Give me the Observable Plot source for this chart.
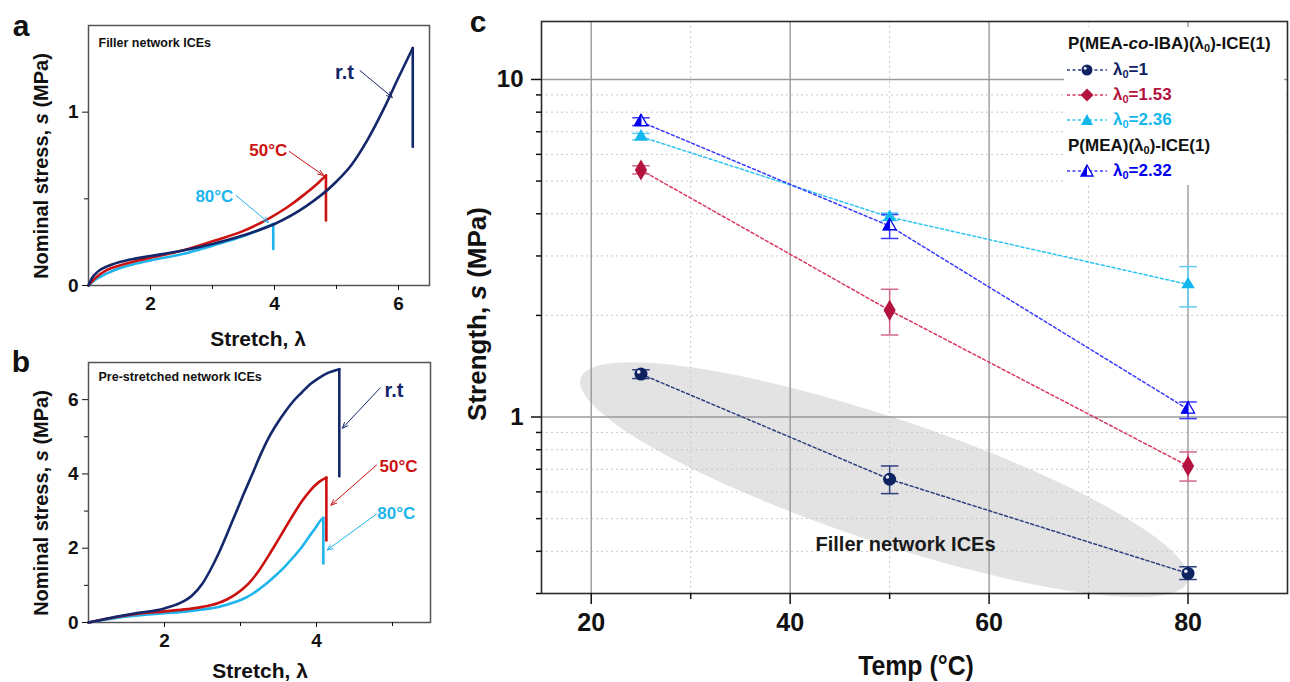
<!DOCTYPE html>
<html><head><meta charset="utf-8">
<script src="https://cdn.jsdelivr.net/npm/d3@7"></script>
<script src="https://cdn.jsdelivr.net/npm/@observablehq/plot@0.6"></script>
<style>
body{margin:0;background:#fff;}
#root{position:relative;width:1290px;height:682px;overflow:hidden;font-family:"Liberation Sans",Arial,sans-serif;background:#fff;}
.pan{position:absolute;}
.lbl{position:absolute;font-weight:bold;white-space:nowrap;color:#111;transform:translate(-50%,-50%);line-height:1;}
.rot{transform:translate(-50%,-50%) rotate(-90deg);}
.leg{position:absolute;font-weight:bold;white-space:nowrap;font-size:17px;line-height:1;}
.leg sub{font-size:11px;vertical-align:-3px;}
</style></head><body><div id="root"></div>
<script>
// ---------- Panel a : Filler network ICEs ----------
const aRtLam = [1.0,1.05,1.15,1.3,1.5,1.75,2.0,2.5,3.0,3.5,4.0,4.5,5.0,5.25,5.5,5.75,6.0,6.23];
const aRtS   = [0,0.04,0.08,0.11,0.135,0.155,0.17,0.2,0.24,0.29,0.355,0.455,0.6,0.7,0.84,1.01,1.2,1.37];
const aRtDrop = 0.80;
const a50Lam = [1.0,1.1,1.3,1.5,1.75,2.0,2.5,3.0,3.5,3.9,4.2,4.5,4.7,4.83];
const a50S   = [0,0.04,0.09,0.115,0.14,0.16,0.2,0.255,0.315,0.385,0.45,0.53,0.59,0.635];
const a50Drop = 0.375;
const a80Lam = [1.0,1.1,1.3,1.5,1.75,2.0,2.5,3.0,3.5,3.98];
const a80S   = [0,0.03,0.07,0.1,0.125,0.145,0.18,0.23,0.285,0.355];
const a80Drop = 0.21;

// ---------- Panel b : Pre-stretched network ICEs ----------
const bRtLam = [1.0,1.3,1.6,2.0,2.2,2.36,2.5,2.6,2.71,2.82,2.93,3.04,3.15,3.26,3.37,3.48,3.59,3.7,3.81,3.92,4.03,4.15,4.3];
const bRtS   = [0,0.13,0.24,0.38,0.52,0.72,1.05,1.4,1.85,2.37,2.91,3.45,3.97,4.5,4.97,5.35,5.68,5.97,6.2,6.42,6.58,6.72,6.82];
const bRtDrop = 3.94;
const b50Lam = [1.0,1.3,1.6,2.0,2.3,2.5,2.7,2.82,2.93,3.04,3.15,3.26,3.37,3.48,3.59,3.7,3.81,3.92,4.03,4.13];
const b50S   = [0,0.12,0.22,0.3,0.36,0.42,0.52,0.62,0.75,0.92,1.15,1.45,1.8,2.17,2.55,2.92,3.27,3.56,3.78,3.9];
const b50Drop = 2.21;
const b80Lam = [1.0,1.3,1.6,2.0,2.3,2.5,2.71,2.93,3.04,3.15,3.26,3.37,3.48,3.59,3.7,3.81,3.9,3.99,4.05,4.09];
const b80S   = [0,0.1,0.18,0.25,0.3,0.35,0.42,0.55,0.64,0.76,0.92,1.1,1.3,1.52,1.77,2.04,2.3,2.56,2.74,2.82];
const b80Drop = 1.59;

// ---------- Panel c : Strength vs temperature ----------
const temps = [25, 50, 80];
const cSeriesNames = ["λ0=1", "λ0=1.53", "λ0=2.36", "λ0=2.32"];
const c1   = [1.34, 0.654, 0.344], c1Lo = [1.30, 0.593, 0.330], c1Hi = [1.38, 0.716, 0.360];
const c153 = [5.39, 2.07, 0.716],  c153Lo = [5.25, 1.75, 0.646], c153Hi = [5.55, 2.39, 0.788];
const c236 = [6.77, 3.91, 2.47],   c236Lo = [6.62, 3.82, 2.12],  c236Hi = [6.92, 4.02, 2.79];
const c232 = [7.49, 3.68, 1.054],  c232Lo = [7.30, 3.38, 0.989], c232Hi = [7.70, 3.98, 1.108];
const cXTicks = [20, 40, 60, 80], cXMinor = [30, 50, 70];
const cYTicks = [1, 10], cYMinor = [0.3,0.4,0.5,0.6,0.7,0.8,0.9,2,3,4,5,6,7,8,9];

const NAVY = "#14276b", RED = "#cc1111", CYAN = "#1eb4ec";
const root = document.getElementById("root");
const intFmt = d => String(d);

function pts(l, s) { return l.map((x, i) => ({x, y: s[i]})); }
function drop(l, s, d) { const n = l.length - 1; return [{x: l[n], y: s[n]}, {x: l[n], y: d}]; }
function place(el, left, top) { const d = document.createElement("div"); d.className = "pan"; d.style.left = left + "px"; d.style.top = top + "px"; d.appendChild(el); root.appendChild(d); }
function label(html, x, y, size, rot, extra) {
  const d = document.createElement("div"); d.className = "lbl" + (rot ? " rot" : "");
  d.style.left = x + "px"; d.style.top = y + "px"; d.style.fontSize = size + "px";
  if (extra) Object.assign(d.style, extra);
  d.innerHTML = html; root.appendChild(d);
}

function stressPanel(o) {
  const marks = [Plot.frame({stroke: "#555", strokeWidth: 1.5})];
  for (const c of o.curves) {
    marks.push(Plot.line(pts(c.l, c.s), {x: "x", y: "y", stroke: c.color, strokeWidth: 2.6, curve: "monotone-x"}));
    marks.push(Plot.line(drop(c.l, c.s, c.d), {x: "x", y: "y", stroke: c.color, strokeWidth: 2.6}));
  }
  for (const a of o.notes) {
    marks.push(Plot.arrow([a], {x1: "x1", y1: "y1", x2: "x2", y2: "y2", stroke: a.color, strokeWidth: 1, headLength: 9, headAngle: 45}));
    marks.push(Plot.text([a], {x: "tx", y: "ty", text: "t", fill: a.color, fontSize: a.fs, fontWeight: "bold"}));
  }
  marks.push(Plot.text([o.title], {frameAnchor: "top-left", dx: 10, dy: o.titleDy, lineAnchor: "middle", textAnchor: "start", fontSize: 12.5, fontWeight: "bold", fill: "#111"}));
  marks.push(Plot.axisX({ticks: o.xTicks, tickSize: 5, tickPadding: 6, tickFormat: intFmt, label: null, fontSize: 19, fontWeight: "bold"}));
  marks.push(Plot.axisX({ticks: o.xMinor, tickSize: 4, tickFormat: () => "", label: null}));
  marks.push(Plot.axisY({ticks: o.yTicks, tickSize: 6, tickPadding: 4, tickFormat: intFmt, label: null, fontSize: 19, fontWeight: "bold"}));
  marks.push(Plot.axisY({ticks: o.yMinor, tickSize: 4, tickFormat: () => "", label: null}));
  return Plot.plot({
    width: 440, height: o.h, marginLeft: 88, marginRight: o.mr, marginTop: o.mt, marginBottom: o.mb,
    x: {domain: o.xd}, y: {domain: o.yd},
    style: {fontFamily: "'Liberation Sans', Arial, sans-serif", color: "#111", background: "transparent", overflow: "visible"},
    marks
  });
}

// Panel a
place(stressPanel({
  h: 340, mr: 11, mt: 25, mb: 55, xd: [1, 6.5], yd: [0, 1.5], titleDy: 17,
  title: "Filler network ICEs", xTicks: [2, 4, 6], xMinor: [3, 5], yTicks: [0, 1], yMinor: [0.5],
  curves: [
    {l: a80Lam, s: a80S, d: a80Drop, color: CYAN},
    {l: a50Lam, s: a50S, d: a50Drop, color: RED},
    {l: aRtLam, s: aRtS, d: aRtDrop, color: NAVY}
  ],
  notes: [
    {t: "r.t", tx: 5.13, ty: 1.23, x1: 5.38, y1: 1.24, x2: 5.90, y2: 1.085, color: NAVY, fs: 20},
    {t: "50°C", tx: 3.90, ty: 0.78, x1: 4.24, y1: 0.773, x2: 4.79, y2: 0.635, color: RED, fs: 17},
    {t: "80°C", tx: 3.03, ty: 0.514, x1: 3.38, y1: 0.519, x2: 3.90, y2: 0.364, color: CYAN, fs: 17}
  ]
}), 0, 0);

// Panel b
place(stressPanel({
  h: 342, mr: 10, mt: 22, mb: 60, xd: [1, 5.5], yd: [0, 7], titleDy: 14,
  title: "Pre-stretched network ICEs", xTicks: [2, 4], xMinor: [3, 5], yTicks: [0, 2, 4, 6], yMinor: [1, 3, 5],
  curves: [
    {l: b80Lam, s: b80S, d: b80Drop, color: CYAN},
    {l: b50Lam, s: b50S, d: b50Drop, color: RED},
    {l: bRtLam, s: bRtS, d: bRtDrop, color: NAVY}
  ],
  notes: [
    {t: "r.t", tx: 5.02, ty: 6.24, x1: 4.84, y1: 6.32, x2: 4.34, y2: 5.23, color: NAVY, fs: 20},
    {t: "50°C", tx: 5.08, ty: 4.21, x1: 4.79, y1: 4.24, x2: 4.19, y2: 3.16, color: RED, fs: 17},
    {t: "80°C", tx: 5.05, ty: 2.92, x1: 4.79, y1: 2.92, x2: 4.14, y2: 1.95, color: CYAN, fs: 17}
  ]
}), 0, 340);

// Panel c
const sphere = {draw(ctx, size) { const r = Math.sqrt(size / Math.PI); ctx.moveTo(r, 0); ctx.arc(0, 0, r, 0, 2 * Math.PI); }};
const capSym = {draw(ctx, size) { const w = Math.sqrt(size) * 0.55; ctx.moveTo(-w, 0); ctx.lineTo(w, 0); }};
const triFull = {draw(ctx, size) { const s = Math.sqrt(size) * 0.6824, t = s / 2, u = s * Math.sqrt(3) / 2; ctx.moveTo(0, -s); ctx.lineTo(u, t); ctx.lineTo(-u, t); ctx.closePath(); }};
const triHalf = {draw(ctx, size) { const s = Math.sqrt(size) * 0.6824, t = s / 2, u = s * Math.sqrt(3) / 2; ctx.moveTo(0, -s); ctx.lineTo(0, t); ctx.lineTo(-u, t); ctx.closePath(); }};

const cSeries = [
  {name: cSeriesNames[0], v: c1,   lo: c1Lo,   hi: c1Hi,   mark: "#0e2262", line: "#2c4080", err: "#2c4080"},
  {name: cSeriesNames[1], v: c153, lo: c153Lo, hi: c153Hi, mark: "#b3123f", line: "#d8385f", err: "#d06a88"},
  {name: cSeriesNames[2], v: c236, lo: c236Lo, hi: c236Hi, mark: "#14b6ee", line: "#2cc4f2", err: "#5fcdf3"},
  {name: cSeriesNames[3], v: c232, lo: c232Lo, hi: c232Hi, mark: "#0000f0", line: "#3a3aff", err: "#3a3aff"}
];
const rows = s => temps.map((t, i) => ({t, v: s.v[i], lo: s.lo[i], hi: s.hi[i]}));

const cMarks = [
  Plot.gridX(cXMinor, {stroke: "#c8c8c8", strokeOpacity: 1, strokeDasharray: "2,3"}),
  Plot.gridY(cYMinor, {stroke: "#c8c8c8", strokeOpacity: 1, strokeDasharray: "2,3"}),
  Plot.gridX(cXTicks, {stroke: "#9a9a9a", strokeOpacity: 1, strokeWidth: 1.4}),
  Plot.gridY(cYTicks, {stroke: "#9a9a9a", strokeOpacity: 1, strokeWidth: 1.4})
];
for (const s of cSeries) {
  const r = rows(s);
  cMarks.push(Plot.line(r, {x: "t", y: "v", stroke: s.line, strokeWidth: 1.5, strokeDasharray: "3,2.5"}));
  cMarks.push(Plot.ruleX(r, {x: "t", y1: "lo", y2: "hi", stroke: s.err, strokeWidth: 1.5}));
  cMarks.push(Plot.dot(r, {x: "t", y: "lo", symbol: capSym, r: 9, fill: "none", stroke: s.err, strokeWidth: 1.5}));
  cMarks.push(Plot.dot(r, {x: "t", y: "hi", symbol: capSym, r: 9, fill: "none", stroke: s.err, strokeWidth: 1.5}));
}
// markers
cMarks.push(Plot.dot(rows(cSeries[0]), {x: "t", y: "v", symbol: sphere, r: 6.5, fill: cSeries[0].mark, stroke: "none"}));
cMarks.push(Plot.dot(rows(cSeries[0]), {x: "t", y: "v", symbol: sphere, r: 1.8, dx: -2.2, dy: -2.2, fill: "#e8ecf6", stroke: "none"}));
cMarks.push(Plot.dot(rows(cSeries[1]), {x: "t", y: "v", symbol: "diamond", r: 6.4, fill: cSeries[1].mark, stroke: "none"}));
cMarks.push(Plot.dot(rows(cSeries[2]), {x: "t", y: "v", symbol: triFull, r: 6.4, fill: cSeries[2].mark, stroke: "none"}));
cMarks.push(Plot.dot(rows(cSeries[3]), {x: "t", y: "v", symbol: triFull, r: 6.2, fill: "#fff", stroke: cSeries[3].mark, strokeWidth: 1.3}));
cMarks.push(Plot.dot(rows(cSeries[3]), {x: "t", y: "v", symbol: triHalf, r: 6.2, fill: cSeries[3].mark, stroke: cSeries[3].mark, strokeWidth: 1}));
cMarks.push(Plot.text(["Filler network ICEs"], {x: 51.6, y: 0.42, text: d => d, fontFamily: "'Liberation Sans Narrow', 'Arial Narrow', sans-serif", fontSize: 20, fontWeight: "bold", fill: "#1a1a1a"}));
cMarks.push(Plot.frame({stroke: "#2a2a2a", strokeWidth: 1.6}));
cMarks.push(Plot.axisY({ticks: cYTicks, tickSize: 10, tickPadding: 8, tickFormat: intFmt, label: null, fontSize: 24, fontWeight: "bold", strokeWidth: 1.5}));
cMarks.push(Plot.axisY({ticks: cYMinor, tickSize: 5, tickFormat: () => "", label: null, strokeWidth: 1.5}));
cMarks.push(Plot.axisX({ticks: cXTicks, tickSize: 11, tickPadding: 9, tickFormat: intFmt, label: null, fontSize: 25, fontWeight: "bold", fontFamily: "'Liberation Sans Narrow', 'Arial Narrow', sans-serif", strokeWidth: 1.5}));
cMarks.push(Plot.axisX({ticks: cXMinor, tickSize: 6, tickFormat: () => "", label: null, strokeWidth: 1.5}));

const plotC = Plot.plot({
  width: 850, height: 682, marginLeft: 101, marginRight: 3, marginTop: 21, marginBottom: 89,
  x: {domain: [15, 90]}, y: {type: "log", domain: [0.3, 14.85]},
  style: {fontFamily: "'Liberation Sans', Arial, sans-serif", color: "#111", background: "transparent", overflow: "visible"},
  marks: cMarks
});
// grey ellipse grouping the filler network points (drawn beneath the grid)
{
  const sx = plotC.scale("x"), sy = plotC.scale("y");
  const cx = sx.apply(49.5), cy = sy.apply(0.65);
  const NS = "http://www.w3.org/2000/svg";
  const e = document.createElementNS(NS, "ellipse");
  e.setAttribute("cx", cx); e.setAttribute("cy", cy); e.setAttribute("rx", 320); e.setAttribute("ry", 62);
  e.setAttribute("transform", `rotate(18.5 ${cx} ${cy})`);
  e.setAttribute("fill", "#e3e3e3");
  const st = plotC.querySelector("style");
  plotC.insertBefore(e, st ? st.nextSibling : plotC.firstChild);
}
place(plotC, 440, 0);

// legend box
{
  const box = document.createElement("div");
  Object.assign(box.style, {position: "absolute", left: "1064px", top: "27px", width: "220px", height: "158px", background: "#fff"});
  root.appendChild(box);
  const legRow = (html, y, color, sym) => {
    const d = document.createElement("div"); d.className = "leg";
    d.style.left = (sym ? 1113 : 1068) + "px"; d.style.top = (y - 9) + "px"; d.style.color = color;
    d.innerHTML = html; root.appendChild(d);
    if (sym) {
      const s = document.createElementNS("http://www.w3.org/2000/svg", "svg");
      s.setAttribute("width", 44); s.setAttribute("height", 16);
      Object.assign(s.style, {position: "absolute", left: "1066px", top: (y - 8) + "px"});
      s.innerHTML = `<line x1="1" x2="41" y1="8" y2="8" stroke="${sym.line}" stroke-width="1.4" stroke-dasharray="3,2.5"/>` + sym.shape;
      root.appendChild(s);
    }
  };
  legRow("P(MEA-<i>co</i>-IBA)(λ<sub>0</sub>)-ICE(1)", 44, "#111");
  legRow("λ<sub>0</sub>=1", 70, cSeries[0].mark, {line: cSeries[0].line, shape: `<circle cx="21" cy="8" r="5.5" fill="${cSeries[0].mark}"/><circle cx="19.2" cy="6.2" r="1.5" fill="#e8ecf6"/>`});
  legRow("λ<sub>0</sub>=1.53", 95, cSeries[1].mark, {line: cSeries[1].line, shape: `<path d="M21 1.5 L27.5 8 L21 14.5 L14.5 8Z" fill="${cSeries[1].mark}"/>`});
  legRow("λ<sub>0</sub>=2.36", 120, cSeries[2].mark, {line: cSeries[2].line, shape: `<path d="M21 2 L27 13 L15 13Z" fill="${cSeries[2].mark}"/>`});
  legRow("P(MEA)(λ<sub>0</sub>)-ICE(1)", 146, "#111");
  legRow("λ<sub>0</sub>=2.32", 171, cSeries[3].mark, {line: cSeries[3].line, shape: `<path d="M21 2 L27 13 L15 13Z" fill="#fff" stroke="${cSeries[3].mark}" stroke-width="1.3"/><path d="M21 2 L21 13 L15 13Z" fill="${cSeries[3].mark}"/>`});
}

// axis titles & panel letters
label("Nominal stress, <i>s</i> (MPa)", 41, 166, 20, true);
label("Stretch, λ", 258, 338, 21);
label("Nominal stress, <i>s</i> (MPa)", 41, 503, 20, true);
label("Stretch, λ", 260, 670, 21);
label("Strength, <i>s</i> (MPa)", 477, 314, 26, true);
label("Temp (°C)", 916, 666, 27, false, {fontFamily: "'Liberation Sans Narrow', 'Arial Narrow', sans-serif", transform: "translate(-50%,-50%) scaleX(0.92)"});
label("a", 21, 26, 30);
label("b", 21, 362, 30);
label("c", 478, 22, 30);
</script></body></html>
